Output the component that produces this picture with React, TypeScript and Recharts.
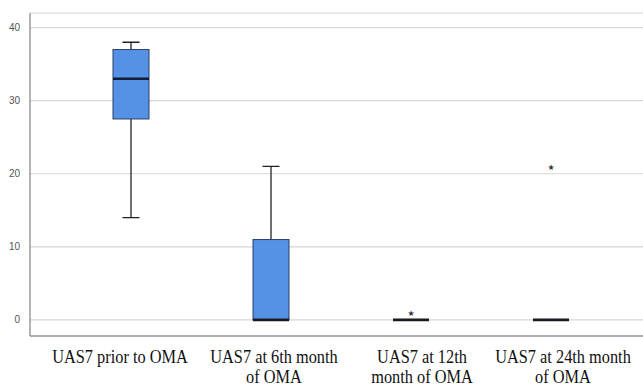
import React from "react";
import { Bar, CartesianGrid, ComposedChart, Line, XAxis, YAxis } from "recharts";

// Box plot statistics per time point (UAS7 scores)
const categories = [
  "UAS7 prior to OMA",
  "UAS7 at 6th month\nof OMA",
  "UAS7 at 12th\nmonth of OMA",
  "UAS7 at 24th month\nof OMA",
];
const whiskerLow = [14, 0, 0, 0];
const quartile1 = [27.5, 0, 0, 0];
const medians = [33, 0, 0, 0];
const quartile3 = [37, 11, 0, 0];
const whiskerHigh = [38, 21, 0, 0];
const outliers: (number | null)[] = [null, null, 1, 21];
const yTicks = [0, 10, 20, 30, 40];

const data = categories.map((name, i) => ({
  name,
  whisker: [whiskerLow[i], whiskerHigh[i]],
  box: [quartile1[i], quartile3[i]],
  median: medians[i],
  outlier: outliers[i],
}));

const BOX_W = 36;
const CAP_W = 17;
const SERIF = "'Liberation Serif', 'Times New Roman', serif";
// the source labels sit a little off the box centres
const LABEL_DX = [-11, 3, 11, 12];

const WhiskerShape = (props: any) => {
  const { x, y, width, height } = props;
  const h = Math.abs(height || 0);
  if (!h) return <g />;
  const top = height < 0 ? y + height : y;
  const cx = x + width / 2;
  return (
    <g stroke="#222" strokeWidth={1.3}>
      <line x1={cx} x2={cx} y1={top} y2={top + h} />
      <line x1={cx - CAP_W / 2} x2={cx + CAP_W / 2} y1={top} y2={top} />
      <line x1={cx - CAP_W / 2} x2={cx + CAP_W / 2} y1={top + h} y2={top + h} />
    </g>
  );
};

const BoxShape = (props: any) => {
  const { x, y, width, height } = props;
  const h = Math.abs(height || 0);
  if (!h) return <g />;
  const top = height < 0 ? y + height : y;
  return (
    <rect x={x} y={top} width={width} height={h} fill="#5592e6" stroke="#2b3f66" strokeWidth={1} />
  );
};

const MedianDot = (props: any) => {
  const { cx, cy, index } = props;
  if (cx == null || cy == null) return <g key={`m${index}`} />;
  return (
    <line
      key={`m${index}`}
      x1={cx - BOX_W / 2}
      x2={cx + BOX_W / 2}
      y1={cy}
      y2={cy}
      stroke={index === 0 ? "#111d36" : "#1a1a22"}
      strokeWidth={2.6}
    />
  );
};

const OutlierDot = (props: any) => {
  const { cx, cy, index, payload } = props;
  if (payload?.outlier == null || cy == null) return <g key={`o${index}`} />;
  return (
    <text
      key={`o${index}`}
      x={cx}
      y={cy + 3.5}
      textAnchor="middle"
      fontSize={8}
      style={{ fontFamily: "'DejaVu Sans', sans-serif" }}
      fill="#333"
    >
      ★
    </text>
  );
};

const CategoryTick = (props: any) => {
  const { x, y, payload, index } = props;
  const lines = String(payload.value).split("\n");
  const cx = x + (LABEL_DX[index] ?? 0);
  return (
    <g transform={`translate(${cx},${y}) scale(0.86,1)`}>
      <text x={0} y={0} textAnchor="middle" fontSize={19} fill="#111" style={{ fontFamily: SERIF }}>
        {lines.map((l, i) => (
          <tspan key={i} x={0} dy={i === 0 ? 19 : 20}>
            {l}
          </tspan>
        ))}
      </text>
    </g>
  );
};

export default function App() {
  return (
    <div style={{ position: "absolute", left: 0, top: 0, background: "#fff" }}>
      <ComposedChart
        width={643}
        height={389}
        data={data}
        margin={{ top: 13, right: 0, bottom: 0, left: 0 }}
      >
        <CartesianGrid vertical={false} stroke="#d6d6d6" strokeWidth={1.2} />
        <XAxis
          xAxisId="a"
          dataKey="name"
          padding={{ left: 31, right: 22 }}
          height={53}
          tickLine={false}
          axisLine={{ stroke: "#9a9a9a", strokeWidth: 1.5 }}
          tick={<CategoryTick />}
          interval={0}
        />
        <XAxis xAxisId="b" dataKey="name" padding={{ left: 31, right: 22 }} hide />
        <YAxis
          domain={[-2.2, 42]}
          ticks={yTicks}
          width={30}
          tickLine={false}
          tickMargin={4}
          axisLine={{ stroke: "#9a9a9a", strokeWidth: 1.5 }}
          tick={{ fill: "#555", fontSize: 10, fontFamily: "Liberation Sans" }}
          allowDataOverflow
        />
        <Bar
          xAxisId="a"
          dataKey="whisker"
          barSize={BOX_W}
          shape={<WhiskerShape />}
          isAnimationActive={false}
        />
        <Bar
          xAxisId="b"
          dataKey="box"
          barSize={BOX_W}
          shape={<BoxShape />}
          isAnimationActive={false}
        />
        <Line
          xAxisId="b"
          dataKey="median"
          stroke="none"
          dot={MedianDot}
          activeDot={false}
          isAnimationActive={false}
        />
        <Line
          xAxisId="b"
          dataKey="outlier"
          stroke="none"
          dot={OutlierDot}
          activeDot={false}
          connectNulls={false}
          isAnimationActive={false}
        />
      </ComposedChart>
    </div>
  );
}
